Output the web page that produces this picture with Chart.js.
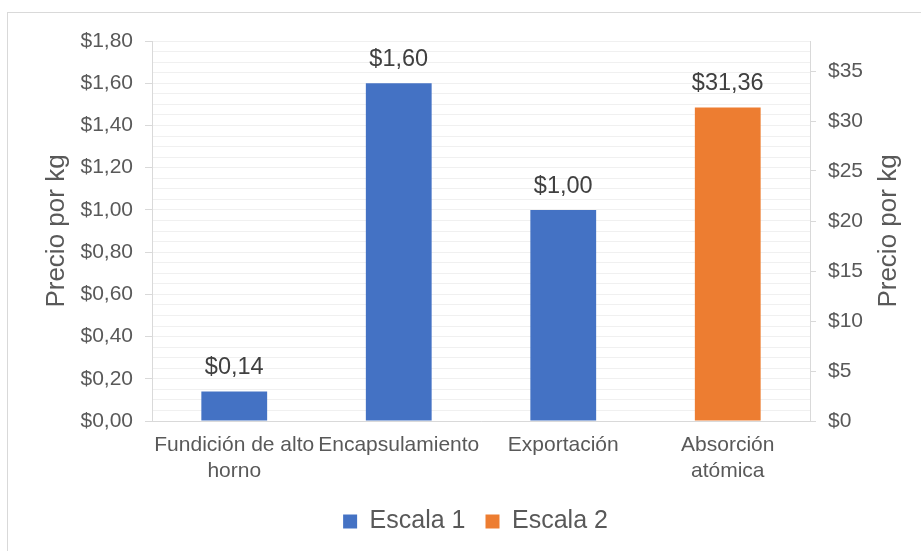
<!DOCTYPE html>
<html lang="es">
<head>
<meta charset="utf-8">
<title>Precio por kg</title>
<script src="https://cdn.jsdelivr.net/npm/chart.js@4/dist/chart.umd.min.js"></script>
<style>
  html, body { margin: 0; padding: 0; background: #fff; overflow: hidden; }
  #marco { position: absolute; left: 7px; top: 12px; width: 1000px; height: 1000px; border: 1px solid #d9d9d9; }
  #grafico { position: absolute; left: 0; top: 0; }
</style>
</head>
<body>
<div id="marco"></div>
<canvas id="grafico" width="921" height="551"></canvas>
<script>
const categorias = [['Fundición de alto', 'horno'], 'Encapsulamiento', 'Exportación', ['Absorción', 'atómica']];
const escala1 = [0.14, 1.60, 1.00, null];
const escala2 = [null, null, null, 31.36];
const maxIzq = 1.8, pasoIzq = 0.2, pasoMenor = 0.05;
const maxDer = 38, pasoDer = 5;

const FUENTE = '"Liberation Sans", Arial, sans-serif';
const GRIS_TEXTO = '#595959';
const GRIS_LINEA = '#d9d9d9';

const precio = v => '$' + v.toFixed(2).replace('.', ',');

// valores encima de cada barra
const etiquetasValor = {
    id: 'etiquetasValor',
    afterDatasetsDraw(chart) {
        const ctx = chart.ctx;
        ctx.save();
        ctx.font = '23.5px ' + FUENTE;
        ctx.fillStyle = '#404040';
        ctx.textAlign = 'center';
        ctx.textBaseline = 'alphabetic';
        chart.data.datasets.forEach((ds, i) => {
            chart.getDatasetMeta(i).data.forEach((bar, j) => {
                if (ds.data[j] == null) return;
                ctx.fillText(precio(ds.data[j]), bar.x, bar.y - 17);
            });
        });
        ctx.restore();
    }
};

// título del eje derecho, leído de abajo hacia arriba
const tituloDerecho = {
    id: 'tituloDerecho',
    afterDraw(chart) {
        const { ctx, chartArea } = chart;
        ctx.save();
        ctx.translate(889, (chartArea.top + chartArea.bottom) / 2);
        ctx.rotate(-Math.PI / 2);
        ctx.font = '26px ' + FUENTE;
        ctx.fillStyle = GRIS_TEXTO;
        ctx.textAlign = 'center';
        ctx.textBaseline = 'middle';
        ctx.fillText('Precio por kg', 0, 0);
        ctx.restore();
    }
};

new Chart(document.getElementById('grafico'), {
    type: 'bar',
    data: {
        labels: categorias,
        datasets: [
            { label: 'Escala 1', data: escala1, backgroundColor: '#4472c4', yAxisID: 'y', grouped: false },
            { label: 'Escala 2', data: escala2, backgroundColor: '#ed7d31', yAxisID: 'y2', grouped: false }
        ]
    },
    options: {
        responsive: false,
        animation: false,
        barPercentage: 0.4,
        categoryPercentage: 1,
        layout: { padding: { top: 41, left: 30, right: 0, bottom: 7 } },
        plugins: {
            tooltip: { enabled: false },
            legend: {
                position: 'bottom',
                labels: { font: { family: FUENTE, size: 25 }, color: GRIS_TEXTO, boxWidth: 14, boxHeight: 14, padding: 20 }
            }
        },
        scales: {
            x: {
                grid: { display: false, drawTicks: false },
                border: { color: GRIS_LINEA },
                ticks: { font: { family: FUENTE, size: 21 }, color: GRIS_TEXTO, padding: 12, maxRotation: 0, minRotation: 0, autoSkip: false },
                afterFit: s => { s.height = 68; }
            },
            y: {
                position: 'left',
                min: 0, max: maxIzq,
                ticks: { stepSize: pasoIzq, font: { family: FUENTE, size: 21 }, color: GRIS_TEXTO, padding: 12, callback: v => precio(v) },
                grid: { color: GRIS_LINEA, tickLength: 7 },
                border: { color: GRIS_LINEA },
                title: { display: true, text: 'Precio por kg', font: { family: FUENTE, size: 26 }, color: GRIS_TEXTO, padding: { top: 11 } },
                afterFit: s => { s.width = 122; }
            },
            yMenor: {
                position: 'left',
                min: 0, max: maxIzq,
                ticks: { display: false, stepSize: pasoMenor },
                grid: { color: '#f0f0f0', drawTicks: false, z: -1 },
                border: { display: false },
                afterFit: s => { s.width = 0; }
            },
            y2: {
                position: 'right',
                min: 0, max: maxDer,
                ticks: { stepSize: pasoDer, font: { family: FUENTE, size: 21 }, color: GRIS_TEXTO, padding: 12, callback: v => '$' + v },
                afterBuildTicks: s => { s.ticks = s.ticks.filter(t => t.value % pasoDer === 0); },
                grid: { drawOnChartArea: false, color: GRIS_LINEA, tickLength: 6 },
                border: { color: GRIS_LINEA },
                afterFit: s => { s.width = 111; }
            }
        }
    },
    plugins: [etiquetasValor, tituloDerecho]
});
</script>
</body>
</html>
